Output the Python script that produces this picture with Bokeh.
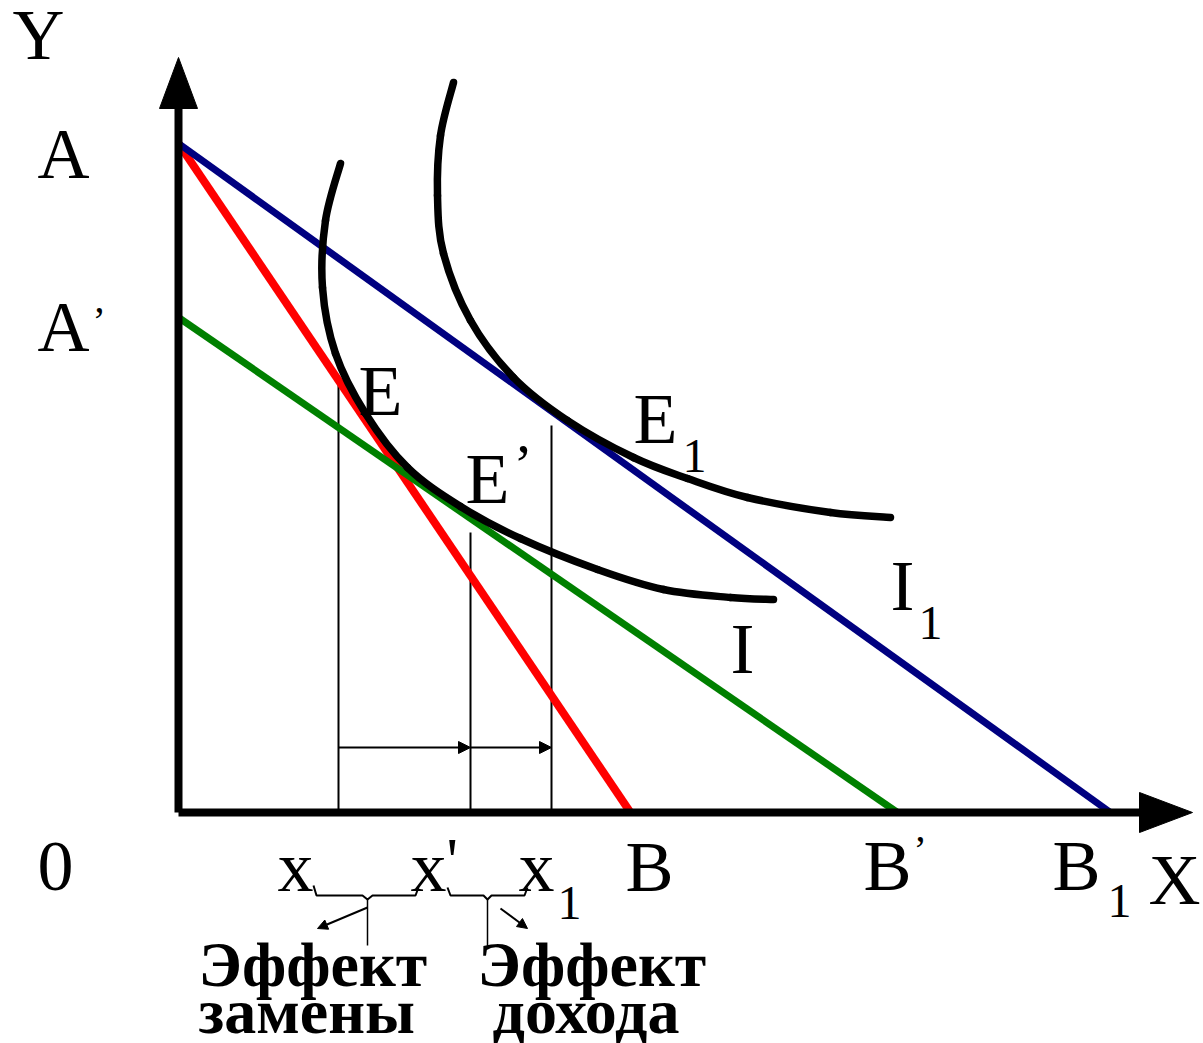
from bokeh.plotting import figure
from bokeh.models import Range1d, Arrow, NormalHead
from bokeh.core.properties import value
from bokeh.embed import file_html
from bokeh.resources import INLINE

# ---------------- data (diagram units, origin at 0) ----------------
# budget lines: y-intercept -> x-intercept
budget_names = ["AB", "A'B'", "AB1"]
budget_y_int = [669, 495, 669]
budget_x_int = [452, 719, 932]
budget_colors = ["#ff0000", "#008000", "#000080"]
budget_widths = [8, 7, 7]

# indifference curve I
curve_I_x = [162, 147, 144, 157, 187, 229, 282, 342, 419, 485, 552, 595]
curve_I_y = [649, 592, 525, 459, 399, 345, 306, 274, 243, 223, 215, 213]

# indifference curve I1
curve_I1_x = [275, 262, 259, 265, 292, 335, 389, 455, 509, 569, 652, 712]
curve_I1_y = [730, 677, 617, 559, 492, 435, 392, 355, 334, 315, 300, 295]

# quantities x, x', x1 and heights of their guide lines
q_names = ["x", "x'", "x1"]
q_x = [160, 292, 373]
q_top = [432, 280, 387]
effect_arrow_y = 65

# axes extents
y_axis_top = 704
x_axis_right = 961

# ---------------- figure ----------------
p = figure(width=1203, height=1043, output_backend="svg", toolbar_location=None,
           x_range=Range1d(-178, 1025), y_range=Range1d(-231, 812),
           min_border=0, min_border_left=0, min_border_right=0,
           min_border_top=0, min_border_bottom=0)
p.axis.visible = False
p.grid.visible = False
p.outline_line_color = None
p.background_fill_color = "white"
p.border_fill_color = "white"


def smooth_curve(xs, ys, **kw):
    # Catmull-Rom spline through the read points, drawn as cubic Beziers
    n = len(xs)
    x0, y0, x1, y1, cx0, cy0, cx1, cy1 = [], [], [], [], [], [], [], []
    for i in range(n - 1):
        a = max(i - 1, 0)
        b = min(i + 2, n - 1)
        x0.append(xs[i]); y0.append(ys[i])
        x1.append(xs[i + 1]); y1.append(ys[i + 1])
        cx0.append(xs[i] + (xs[i + 1] - xs[a]) / 6.0)
        cy0.append(ys[i] + (ys[i + 1] - ys[a]) / 6.0)
        cx1.append(xs[i + 1] - (xs[b] - xs[i]) / 6.0)
        cy1.append(ys[i + 1] - (ys[b] - ys[i]) / 6.0)
    p.bezier(x0=x0, y0=y0, x1=x1, y1=y1, cx0=cx0, cy0=cy0, cx1=cx1, cy1=cy1, **kw)


# guide lines
for qx, qt in zip(q_x, q_top):
    p.line([qx, qx], [0, qt], line_color="black", line_width=2)

# effect arrows
for xa, xb in [(q_x[0], q_x[1]), (q_x[1], q_x[2])]:
    p.add_layout(Arrow(end=NormalHead(size=12, fill_color="black", line_color="black", line_width=1),
                       x_start=xa, y_start=effect_arrow_y, x_end=xb, y_end=effect_arrow_y,
                       line_color="black", line_width=2))

# budget lines
for yi, xi, c, w in zip(budget_y_int, budget_x_int, budget_colors, budget_widths):
    p.line([0, xi], [yi, 0], line_color=c, line_width=w)

# indifference curves
smooth_curve(curve_I_x, curve_I_y, line_color="black", line_width=7.5, line_cap="round")
smooth_curve(curve_I1_x, curve_I1_y, line_color="black", line_width=7.5, line_cap="round")

# axes with arrow heads
p.line([0, 0], [0, y_axis_top], line_color="black", line_width=8)
p.line([0, x_axis_right], [0, 0], line_color="black", line_width=8)
p.patch([-19, 0, 19], [y_axis_top, 755, y_axis_top], fill_color="black", line_color="black")
p.patch([x_axis_right, 1014, x_axis_right], [20, 0, -20], fill_color="black", line_color="black")

# braces under x, x', x1
brace_l_x = [135, 138, 184, 189, 194, 237, 240]
brace_l_y = [-73, -83, -83, -87, -83, -83, -75]
brace_r_x = [269, 272, 305, 309, 313, 346, 349]
brace_r_y = [-75, -83, -83, -87, -83, -83, -75]
p.line(brace_l_x, brace_l_y, line_color="black", line_width=2)
p.line(brace_r_x, brace_r_y, line_color="black", line_width=2)
p.line([189, 189], [-87, -133], line_color="black", line_width=1.5)
p.line([309, 309], [-87, -136], line_color="black", line_width=1.5)
p.add_layout(Arrow(end=NormalHead(size=10, fill_color="black", line_color="black", line_width=1),
                   x_start=189, y_start=-95, x_end=139, y_end=-116,
                   line_color="black", line_width=2))
p.add_layout(Arrow(end=NormalHead(size=10, fill_color="black", line_color="black", line_width=1),
                   x_start=322, y_start=-96, x_end=349, y_end=-116,
                   line_color="black", line_width=2))

serif = value("Liberation Serif")
SHIFT = 0.375  # baseline correction, in em


def label(xs, ys, texts, size, bold=False):
    p.text([x for x in xs], [y + SHIFT * size for y in ys], text=texts,
           text_font=serif, text_font_size=f"{size}px",
           text_font_style="bold" if bold else "normal",
           text_align="left", text_baseline="alphabetic", text_color="black")


# main letters (left edge, baseline)
big_text = ["Y", "A", "A", "0", "E", "E", "E", "I", "I", "B", "B", "B", "X", "x", "x", "x"]
big_x = [-166, -141, -141, -141, 180, 287, 455, 552, 712, 447, 685, 874, 970, 99, 232, 340]
big_y = [751, 632, 459, -81, 395, 307, 367, 137, 200, -81, -80, -80, -94, -81, -81, -81]
label(big_x, big_y, big_text, 72)

# subscripts
sub_text = ["1", "1", "1", "1"]
sub_x = [504, 740, 929, 379]
sub_y = [339, 172, -106, -108]
label(sub_x, sub_y, sub_text, 48)

# primes
label([-86], [477], ["\u2019"], 40)
label([335], [326], ["\u2019"], 58)
label([735], [-52], ["\u2019"], 40)
label([268], [-72], ["'"], 64)

# effect captions
cap_text = ["Эффект", "замены", "Эффект", "дохода"]
cap_x = [20, 20, 299, 314]
cap_y = [-176, -223, -176, -223]
label(cap_x, cap_y, cap_text, 64, bold=True)

open("out.html", "w").write(file_html(p, INLINE))
